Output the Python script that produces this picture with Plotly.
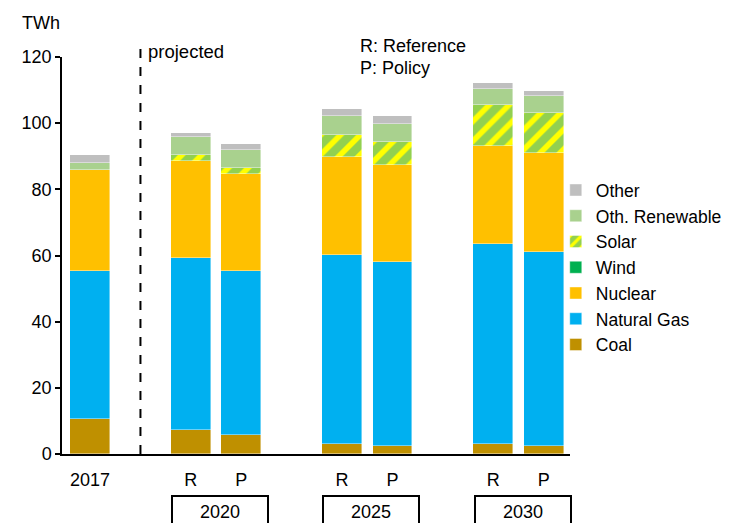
import plotly.graph_objects as go

# Electricity generation by source (TWh): 2017 actual, then projections
# under the Reference (R) and Policy (P) cases.
bar_labels = ["2017", "R", "P", "R", "P", "R", "P"]
slot_pos = [0, 2, 3, 5, 6, 8, 9]          # category slots along the x axis
group_years = ["2020", "2025", "2030"]
group_centers = [2.5, 5.5, 8.5]

coal = [10.7, 7.3, 5.6, 2.9, 2.3, 2.9, 2.3]
natural_gas = [44.5, 51.8, 49.6, 57.3, 55.7, 60.5, 58.9]
nuclear = [30.6, 29.6, 29.5, 29.5, 29.5, 29.7, 29.8]
wind = [0.0, 0.0, 0.0, 0.0, 0.0, 0.0, 0.0]
solar = [0.1, 1.7, 1.7, 6.7, 6.7, 12.3, 12.1]
oth_renewable = [2.1, 5.4, 5.6, 5.7, 5.5, 4.8, 5.0]
other = [2.4, 1.2, 1.7, 2.2, 2.4, 1.8, 1.7]

FONT = "Liberation Sans, Arial, sans-serif"
x_min, x_max = -0.556, 9.52

fig = go.Figure()

series = [
    ("Coal", coal, "#BF9000", None),
    ("Natural Gas", natural_gas, "#00B0F0", None),
    ("Nuclear", nuclear, "#FFC000", None),
    ("Wind", wind, "#00B050", None),
    ("Solar", solar, "#92D050",
     dict(shape="/", fgcolor="#FFFF00", bgcolor="#92D050", size=14,
          solidity=0.4, fillmode="replace")),
    ("Oth. Renewable", oth_renewable, "#A9D18E", None),
    ("Other", other, "#BFBFBF", None),
]

for name, vals, color, pattern in series:
    marker = dict(color=color, line=dict(color="rgba(255,255,255,0.7)", width=0.6))
    if pattern:
        marker["pattern"] = pattern
    fig.add_trace(go.Bar(name=name, x=slot_pos, y=vals, width=0.79, marker=marker))

# Divider between historical and projected years
fig.add_shape(type="line", xref="x", yref="paper", x0=1, x1=1, y0=0, y1=1.033,
              line=dict(color="black", width=2, dash="dash"))

annotations = [
    dict(text="TWh", xref="paper", yref="paper", x=(20 - 62) / 508, y=1.086,
         xanchor="left", yanchor="middle", showarrow=False),
    dict(text="projected", xref="x", yref="paper", x=1, xshift=6, y=1.013,
         xanchor="left", yanchor="middle", showarrow=False,
         font=dict(size=18.5)),
    dict(text="R: Reference", xref="paper", yref="paper", x=(358 - 62) / 508, y=1.028,
         xanchor="left", yanchor="middle", showarrow=False),
    dict(text="P: Policy", xref="paper", yref="paper", x=(358 - 62) / 508, y=0.972,
         xanchor="left", yanchor="middle", showarrow=False),
]

# Boxed year labels beneath each R/P pair
for year, c in zip(group_years, group_centers):
    annotations.append(dict(
        text=year, xref="x", yref="paper", x=c + 0.08, y=-0.146,
        xanchor="center", yanchor="middle", showarrow=False,
        width=94, height=30, bordercolor="black", borderwidth=2, borderpad=0))

fig.update_layout(
    width=744, height=523,
    margin=dict(l=62, r=174, t=57, b=69),
    paper_bgcolor="white", plot_bgcolor="white",
    barmode="stack", bargap=0,
    font=dict(family=FONT, size=18, color="black"),
    annotations=annotations,
    legend=dict(x=0.972, y=0.71, xanchor="left", yanchor="top",
                font=dict(family=FONT, size=17.5, color="black"),
                traceorder="reversed", itemwidth=30, bgcolor="rgba(0,0,0,0)"),
    showlegend=True,
)

fig.update_xaxes(range=[x_min, x_max], tickvals=slot_pos, ticktext=bar_labels,
                 showline=True, linecolor="black", linewidth=2, ticks="",
                 showgrid=False, zeroline=False, ticklabelstandoff=8,
                 tickfont=dict(family=FONT, size=18, color="black"))
fig.update_yaxes(range=[0, 120], dtick=20, showline=True, linecolor="black",
                 linewidth=1.5, ticks="outside", ticklen=5, tickwidth=1.5,
                 tickcolor="black", showgrid=False, zeroline=False,
                 tickfont=dict(family=FONT, size=18, color="black"))

fig.write_html("out.html")
